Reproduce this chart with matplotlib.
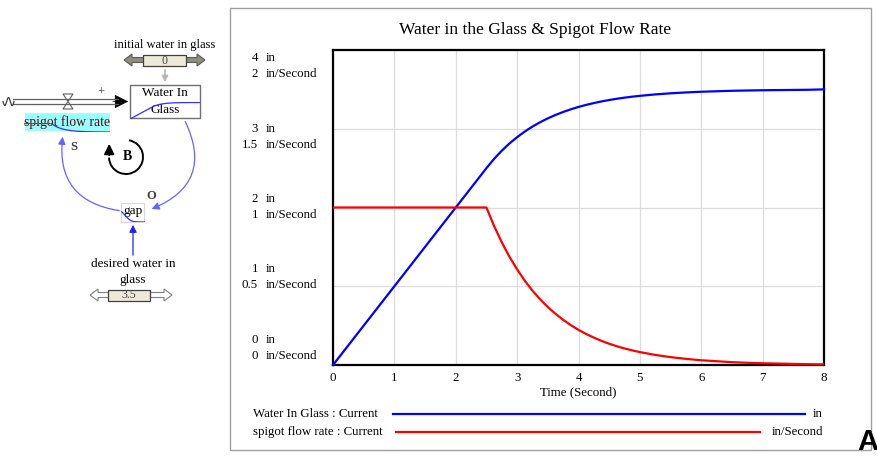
import numpy as np
import matplotlib.pyplot as plt
from matplotlib.patches import Rectangle, FancyArrowPatch, FancyArrow, Arc
from matplotlib.lines import Line2D

plt.rcParams['font.family'] = ['Liberation Serif', 'DejaVu Serif']

# simulation output (Time in seconds)
time = [0, 0.25, 0.5, 0.75, 1, 1.25, 1.5, 1.75, 2, 2.25, 2.5,
        2.625, 2.75, 2.875, 3, 3.125, 3.25, 3.375, 3.5, 3.625, 3.75, 3.875,
        4, 4.125, 4.25, 4.375, 4.5, 4.625, 4.75, 4.875, 5, 5.25, 5.5,
        5.75, 6, 6.25, 6.5, 6.75, 7, 7.25, 7.5, 7.75, 8]
water_in_glass = [0, 0.25, 0.5, 0.75, 1.0, 1.25, 1.5, 1.75, 2.0, 2.25, 2.5,
                  2.618, 2.721, 2.813, 2.893, 2.965, 3.028, 3.083, 3.132, 3.175, 3.213, 3.247,
                  3.277, 3.303, 3.326, 3.347, 3.365, 3.381, 3.395, 3.407, 3.418, 3.436, 3.450,
                  3.461, 3.470, 3.476, 3.482, 3.486, 3.489, 3.491, 3.493, 3.495, 3.50]
spigot_flow_rate = [1, 1, 1, 1, 1, 1, 1, 1, 1, 1, 1,
                    0.882, 0.779, 0.687, 0.607, 0.535, 0.472, 0.417, 0.368, 0.325, 0.287, 0.253,
                    0.223, 0.197, 0.174, 0.153, 0.135, 0.119, 0.105, 0.093, 0.082, 0.064, 0.050,
                    0.039, 0.030, 0.024, 0.018, 0.014, 0.011, 0.009, 0.007, 0.005, 0.004]
initial_water = 0
desired_water = 3.5

in_ticks = [0, 1, 2, 3, 4]
rate_labels = ["0", "0.5", "1", "1.5", "2"]
x_ticks = [0, 1, 2, 3, 4, 5, 6, 7, 8]

W, H = 878, 463
fig = plt.figure(figsize=(W / 100, H / 100), dpi=100)

# pixel-coordinate canvas for the diagram and frame
cv = fig.add_axes([0, 0, 1, 1])
cv.set_xlim(0, W)
cv.set_ylim(H, 0)
cv.axis('off')


def px_axes(x0, y0, x1, y1):
    return fig.add_axes([x0 / W, (H - y1) / H, (x1 - x0) / W, (y1 - y0) / H])


fs = 9.3

# ---------- stock & flow diagram ----------
blue_line = '#6464ff'
cv.text(165, 45, "initial water in glass", ha='center', va='center', fontsize=9)
# slider arrows
for x0, x1, y, fc, ec in [(165, 205, 60, '#8e8e80', '#5a5a50'), (165, 124, 60, '#8e8e80', '#5a5a50'),
                          (129, 172, 295, 'white', '#808080'), (129, 90, 295, 'white', '#808080')]:
    cv.add_patch(FancyArrow(x0, y, x1 - x0, 0, width=5, head_width=12, head_length=8,
                            length_includes_head=True, fc=fc, ec=ec, lw=0.8))
cv.add_patch(Rectangle((143, 55), 43, 11, fc='#ece9d8', ec='#404040', lw=0.9))
cv.text(164.5, 60.5, str(initial_water), ha='center', va='center', fontsize=8.5, color='#404040')
cv.add_patch(Rectangle((108, 290), 42, 11, fc='#ece9d8', ec='#404040', lw=0.9))
cv.text(129, 295.5, str(desired_water), ha='center', va='center', fontsize=8.5, color='#404040')

# gray arrow initial -> stock
cv.add_patch(FancyArrowPatch((165, 67), (165, 85), arrowstyle='-|>', mutation_scale=9,
                             color='#b8b8b8', lw=1.2))

# stock box
cv.add_patch(Rectangle((131, 86), 70, 33, fc='#d0d0d0', ec='none'))
cv.add_patch(Rectangle((130, 85), 70, 33, fc='white', ec='#707070', lw=1))
cv.text(165, 93, "Water In", ha='center', va='center', fontsize=9.5)
cv.text(165, 110, "Glass", ha='center', va='center', fontsize=9.5)
sp1 = px_axes(130, 102, 200, 119)
sp1.plot(time, water_in_glass, color='#3030ff', lw=0.9)
sp1.set_xlim(0, 8)
sp1.set_ylim(0, 3.6)
sp1.axis('off')

# pipe
cv.plot([13, 118], [99, 99], color='#606060', lw=0.9)
cv.plot([13, 118], [104, 104], color='#606060', lw=0.9)
cv.add_patch(FancyArrowPatch((110, 101.5), (131, 101.5), arrowstyle='-|>', mutation_scale=22,
                             color='black', lw=0.5))
# cloud
cx = np.linspace(0, 1, 30)
cv.plot(3 + 11 * cx, 101.5 + 4 * np.sin(cx * 3 * np.pi), color='#404040', lw=0.9)
# valve
cv.fill([63, 73, 68], [94, 94, 101.5], fc='white', ec='#606060', lw=0.8)
cv.fill([63, 73, 68], [109, 109, 101.5], fc='white', ec='#606060', lw=0.8)
cv.text(101, 93, "+", ha='center', va='center', fontsize=9, color='#404040')

# flow label
cv.add_patch(Rectangle((25, 113), 85, 18, fc='#99ffff', ec='none'))
cv.text(67, 122.5, "spigot flow rate", ha='center', va='center', fontsize=9.8, color='#5a0a0a')
sp2 = px_axes(24, 123, 110, 132)
sp2.plot(time, spigot_flow_rate, color='#3030ff', lw=0.9)
sp2.plot(time[:11], spigot_flow_rate[:11], color='#b03030', lw=0.9)
sp2.set_xlim(0, 8)
sp2.set_ylim(0, 1)
sp2.axis('off')

# causal links
cv.add_patch(FancyArrowPatch((184, 119), (149, 210), connectionstyle='arc3,rad=-0.55',
                             arrowstyle='-|>', mutation_scale=11, color=blue_line, lw=0.9))
cv.add_patch(FancyArrowPatch((122, 211), (63, 134), connectionstyle='arc3,rad=-0.5',
                             arrowstyle='-|>', mutation_scale=11, color=blue_line, lw=0.9))
cv.add_patch(FancyArrowPatch((133, 258), (133, 222), arrowstyle='-|>', mutation_scale=11,
                             color='#2020ff', lw=0.9))
cv.text(151, 196, "O", ha='center', va='center', fontsize=9, fontweight='bold', color='#404040')
cv.text(74, 147, "S", ha='center', va='center', fontsize=9, fontweight='bold', color='#404040')

# loop marker
cv.add_patch(Arc((126, 157), 34, 34, theta1=-80, theta2=178, color='black', lw=1.4))
cv.add_patch(FancyArrowPatch((109.2, 158), (109.2, 141), arrowstyle='-|>', mutation_scale=15,
                             color='black', lw=1.4))
cv.text(127, 157, "B", ha='center', va='center', fontsize=10, fontweight='bold')

# gap
cv.add_patch(Rectangle((121, 203), 23, 19, fc='white', ec='#d8d8d8', lw=0.8))
cv.text(133, 211, "gap", ha='center', va='center', fontsize=9.5)
gap = [desired_water - w for w in water_in_glass]
sp3 = px_axes(121, 211, 145, 222)
sp3.plot(time, gap, color='#3030ff', lw=0.9)
sp3.set_xlim(0, 8)
sp3.set_ylim(0, 3.5)
sp3.axis('off')

cv.text(133, 264, "desired water in", ha='center', va='center', fontsize=9.5)
cv.text(133, 280, "glass", ha='center', va='center', fontsize=9.5)

# ---------- graph ----------
cv.add_patch(Rectangle((230, 8), 641, 442, fc='none', ec='#a0a0a0', lw=1))
cv.text(535, 30, "Water in the Glass & Spigot Flow Rate", ha='center', va='center', fontsize=12.5)

ax = px_axes(333, 50, 824, 365)
ax.plot(time, water_in_glass, color='#0000ff', lw=1.6, clip_on=False, zorder=3)
ax.set_xlim(0, 8)
ax.set_ylim(0, 4)
ax.set_xticks(x_ticks)
ax.set_yticks(in_ticks)
ax.set_yticklabels([])
ax.grid(True, color='#dcdcdc', lw=0.9)
ax.tick_params(length=0, labelsize=fs, pad=5)
for s in ax.spines.values():
    s.set_linewidth(1.6)
ax.set_xlabel("Time (Second)", fontsize=fs, labelpad=2)

ax2 = ax.twinx()
ax2.plot(time, spigot_flow_rate, color='#ff0000', lw=1.6, zorder=3)
ax2.set_ylim(0, 2)
ax2.set_yticks([])
ax2.axis('off')

# two-unit axis labels
for k, (v, r) in enumerate(zip(in_ticks, rate_labels)):
    yc = 348 - k * 70.5
    cv.text(258, yc - 8, str(v), ha='right', va='center', fontsize=fs)
    cv.text(266, yc - 8, "in", ha='left', va='center', fontsize=fs)
    cv.text(258, yc + 8, r, ha='right', va='center', fontsize=fs)
    cv.text(266, yc + 8, "in/Second", ha='left', va='center', fontsize=fs)

# legend
cv.text(253, 414, "Water In Glass : Current", ha='left', va='center', fontsize=fs)
cv.add_line(Line2D([393, 805], [414, 414], color='#0000ff', lw=1.6))
cv.text(823, 414, "in", ha='right', va='center', fontsize=fs)
cv.text(253, 432, "spigot flow rate : Current", ha='left', va='center', fontsize=fs)
cv.add_line(Line2D([396, 760], [432, 432], color='#ff0000', lw=1.6))
cv.text(823, 432, "in/Second", ha='right', va='center', fontsize=fs)

cv.text(868, 442, "A", ha='center', va='center', fontsize=21, fontweight='bold',
        family='Liberation Sans')

fig.savefig("out.png", dpi=100)
